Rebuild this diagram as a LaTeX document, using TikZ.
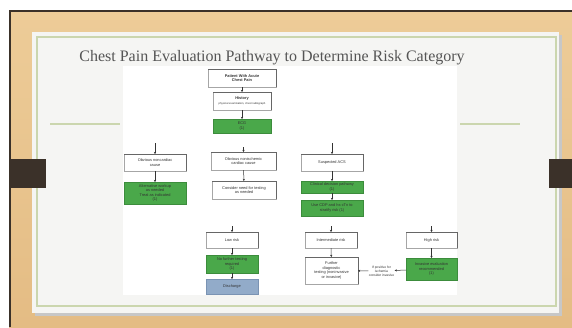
\documentclass[tikz,border=0pt]{standalone}
\usepackage{fontspec}
\setmainfont{Liberation Serif}
\newfontfamily\bxf{Liberation Sans}
\usetikzlibrary{arrows.meta}
\definecolor{wood}{HTML}{E4BC84}
\definecolor{woodlight}{HTML}{EDCC98}
\definecolor{frameline}{HTML}{3A3129}
\definecolor{slidebg}{HTML}{F5F5F3}
\definecolor{slideline}{HTML}{CBD6AE}
\definecolor{tabcol}{HTML}{3B3129}
\definecolor{titlecol}{HTML}{555555}
\definecolor{boxgreen}{HTML}{4AA84A}
\definecolor{boxgreenb}{HTML}{3C8C3C}
\definecolor{boxblue}{HTML}{92ABC9}
\definecolor{boxblueb}{HTML}{7A93B3}
\tikzset{
  fb/.style={inner sep=0.5pt, outer sep=0pt, align=center, text=black!80,
    font=\bxf\fontsize{3.9}{4.5}\selectfont},
  wbox/.style={fb, fill=white, draw=black!35, line width=0.4pt},
  gbox/.style={fb, fill=boxgreen, draw=boxgreenb, line width=0.4pt},
  bbox/.style={fb, fill=boxblue, draw=boxblueb, line width=0.4pt},
  edgeline/.style={draw=black!60, line width=1pt},
  conn/.style={draw=black!80, line width=0.5pt, -{Stealth[length=2.2pt,width=2.2pt]}},
}
\newcommand\tredge[1]{\draw[edgeline] (#1.north west) -- (#1.north east) -- (#1.south east);}
\begin{document}
\begin{tikzpicture}[x=1pt,y=-1pt]
\useasboundingbox (0,0) rectangle (572,327);
% frame
\fill[white] (0,0) rectangle (572,327);
\shade[top color=woodlight, bottom color=wood] (9,10) rectangle (572,327);
\draw[frameline, line width=1.6pt] (9.8,327) -- (9.8,10.8) -- (572,10.8);
% slide
\fill[black!22] (35,35) rectangle (562,316);
\fill[slidebg] (32,32) rectangle (559,313);
\draw[slideline, line width=1.1pt] (37,37) rectangle (556,306);
% tabs
\fill[tabcol] (10,159) rectangle (46,188);
\fill[tabcol] (549,159) rectangle (572,188);
% title
\node[anchor=base, text=titlecol, inner sep=0pt, font=\fontsize{16}{18}\selectfont] (title) at (272,61) {Chest Pain Evaluation Pathway to Determine Risk Category};
% rules
\draw[slideline, line width=1.2pt] (50,124) -- (120,124);
\draw[slideline, line width=1.2pt] (460,124) -- (520,124);
% diagram area
\fill[white] (123,66) rectangle (457,295);

% top column
\node[wbox, minimum width=68pt, minimum height=18pt, font=\bxf\bfseries\fontsize{3.9}{4.5}\selectfont] (patient) at (242,78) {Patient With Acute\\Chest Pain};
\node[wbox, minimum width=58pt, minimum height=18pt] (history) at (242,101) {{\bfseries History}\\[1pt]{\fontsize{2.7}{3.1}\selectfont physical examination, chest radiograph}};
\node[gbox, minimum width=58pt, minimum height=14pt] (ecg) at (242,126) {ECG\\(1)};

% second row
\node[wbox, minimum width=62pt, minimum height=17pt] (nonc) at (155,162.5) {Obvious noncardiac\\cause};
\node[gbox, minimum width=62pt, minimum height=22pt] (altw) at (155,193) {Alternative workup\\as needed\\Treat as indicated\\(1)};
\node[wbox, minimum width=65pt, minimum height=18pt] (nonisch) at (243.5,161) {Obvious nonischemic\\cardiac cause};
\node[wbox, minimum width=64pt, minimum height=18pt] (consider) at (244,190) {Consider need for testing\\as needed};
\node[wbox, minimum width=62pt, minimum height=17pt] (acs) at (332,162.5) {Suspected ACS};
\node[gbox, minimum width=62pt, minimum height=12pt] (cdp) at (332,187) {Clinical decision pathway\\(1)};
\node[gbox, minimum width=62pt, minimum height=16pt] (usecdp) at (332,208) {Use CDP and hs-cTn to\\stratify risk (1)};

% bottom row
\node[wbox, minimum width=52pt, minimum height=16pt] (low) at (232,240) {Low risk};
\node[gbox, minimum width=52pt, minimum height=18pt] (nofurther) at (232,264) {No further testing\\required\\(1)};
\node[bbox, minimum width=52pt, minimum height=15pt] (disch) at (232,286.5) {Discharge};
\node[wbox, minimum width=52pt, minimum height=16pt] (inter) at (331,240) {Intermediate risk};
\node[wbox, minimum width=53pt, minimum height=27pt] (furth) at (331.5,270.5) {Further\\diagnostic\\testing (noninvasive\\or invasive)};
\node[wbox, minimum width=51pt, minimum height=16pt] (high) at (431.5,240) {High risk};
\node[gbox, minimum width=51pt, minimum height=22pt] (inv) at (431.5,269) {Invasive evaluation\\recommended\\(1)};
\node[fb, fill=none, draw=none, font=\bxf\fontsize{3.3}{3.9}\selectfont] (stress) at (381.5,271) {If positive for\\ischemia\\consider invasive};

% edges on white boxes
\tredge{patient}\tredge{history}\tredge{nonc}\tredge{nonisch}\tredge{consider}
\tredge{acs}\tredge{low}\tredge{inter}\tredge{furth}\tredge{high}

% free ends
\coordinate (lin) at (155,143);
\coordinate (min) at (243.5,147);
\coordinate (rin) at (332,143);
\coordinate (b1) at (232,226);
\coordinate (b2) at (331,226);
\coordinate (b3) at (431.5,226);

% connectors
\draw[conn] (patient) -- (history);
\draw[conn] (history) -- (ecg);
\draw[conn] (lin) -- (nonc);
\draw[conn] (min) -- (nonisch);
\draw[conn] (rin) -- (acs);
\draw[conn] (nonc) -- (altw);
\draw[conn] (nonisch) -- (consider);
\draw[conn] (acs) -- (cdp);
\draw[conn] (cdp) -- (usecdp);
\draw[conn] (b1) -- (low);
\draw[conn] (b2) -- (inter);
\draw[conn] (b3) -- (high);
\draw[conn] (low) -- (nofurther);
\draw[conn] (nofurther) -- (disch);
\draw[conn] (inter) -- (furth);
\draw[conn] (high) -- (inv);
\draw[conn] (inv) -- (stress);
\draw[conn] (stress) -- (furth);
\end{tikzpicture}
\end{document}
